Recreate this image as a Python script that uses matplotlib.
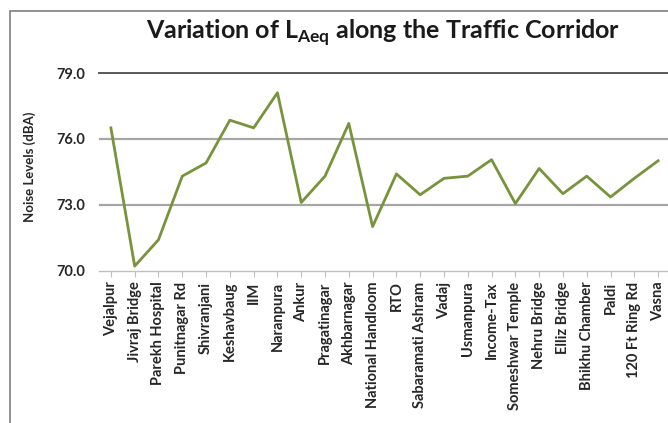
import matplotlib
matplotlib.use('Agg')
import matplotlib.pyplot as plt
from matplotlib.patches import Rectangle

# locations along the corridor and measured LAeq (dBA)
locations = ['Vejalpur', 'Jivraj Bridge', 'Parekh Hospital', 'Punitnagar Rd',
             'Shivranjani', 'Keshavbaug', 'IIM', 'Naranpura', 'Ankur',
             'Pragatinagar', 'Akhbarnagar', 'National Handloom', 'RTO',
             'Sabaramati Ashram', 'Vadaj', 'Usmanpura', 'Income-Tax',
             'Someshwar Temple', 'Nehru Bridge', 'Elliz Bridge',
             'Bhikhu Chamber', 'Paldi', '120 Ft Ring Rd', 'Vasna']
laeq = [76.5, 70.2, 71.4, 74.3, 74.9, 76.85, 76.5, 78.1, 73.1, 74.3, 76.7,
        72.0, 74.4, 73.45, 74.2, 74.3, 75.05, 73.05, 74.65, 73.5, 74.3,
        73.35, 74.2, 75.0]
yticks = [70.0, 73.0, 76.0, 79.0]

plt.rcParams['font.family'] = ['Lato', 'DejaVu Sans']

fig = plt.figure(figsize=(6.68, 4.23), dpi=100)
W, H = 668, 423

# outer chart frame (right/bottom edges cropped in the original)
fig.patches.append(Rectangle((9.5 / W, -0.1), 1.2, 1.1 - 11.5 / H,
                             transform=fig.transFigure, fill=False,
                             edgecolor='#7f7f7f', linewidth=1.2))

ax = fig.add_axes([99 / W, 1 - 270.5 / H, (670 - 99) / W, (270.5 - 73) / H])
x = list(range(len(locations)))
ax.plot(x, laeq, color='#77933c', linewidth=2.0, zorder=3)

ax.set_xlim(-0.5, len(locations) - 0.5)
ax.set_ylim(70, 79)
ax.set_yticks(yticks)
ax.set_yticklabels(['%.1f' % v for v in yticks], fontsize=10.5, fontweight='bold')
ax.set_xticks(x)
ax.set_xticklabels(locations, rotation=90, fontsize=10.5, fontweight='bold')

for v in [73.0, 76.0]:
    ax.axhline(v, color='#a6a6a6', linewidth=1.6, zorder=1)
ax.axhline(79.0, color='#595959', linewidth=1.4, zorder=1, clip_on=False)

for s in ['left', 'right', 'top']:
    ax.spines[s].set_visible(False)
ax.spines['bottom'].set_color('#bfbfbf')
ax.spines['bottom'].set_linewidth(1.0)
ax.tick_params(axis='y', length=0, pad=10, labelcolor='#262626')
ax.tick_params(axis='x', length=4, color='#bfbfbf', pad=4, labelcolor='#262626')

fig.text(30 / W, 1 - 167 / H, 'Noise Levels (dBA)', rotation=90,
         ha='center', va='center', fontsize=9.5, fontweight='bold',
         color='#262626')
fig.text(383 / W, 1 - 33 / H, r'Variation of L$_{\mathregular{Aeq}}$ along the Traffic Corridor',
         ha='center', va='center', fontsize=18, fontweight='bold',
         color='#1a1a1a')

fig.savefig('out.png', dpi=100)
